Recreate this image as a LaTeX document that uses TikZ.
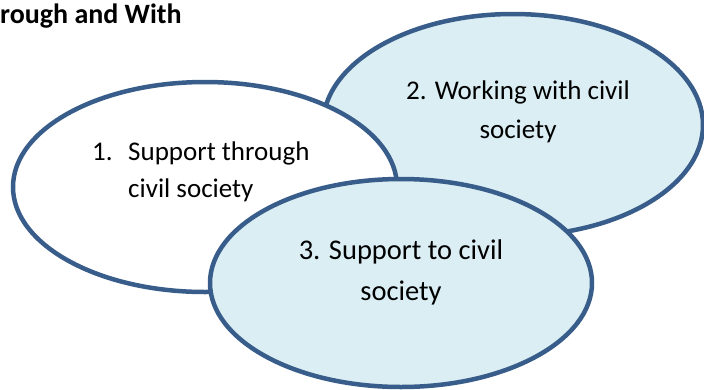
\documentclass[tikz,border=0pt]{standalone}
\usepackage{fontspec}
\setmainfont{Carlito}
\usetikzlibrary{shapes.geometric}
\definecolor{rimblue}{HTML}{385D8A}
\definecolor{paleaqua}{HTML}{DAEEF3}

\begin{document}
\begin{tikzpicture}[x=1pt,y=-1pt,
  oval/.style={ellipse,draw=rimblue,line width=4.5pt,inner sep=0pt},
  words/.style={inner sep=0pt,font=\fontsize{27}{39}\selectfont}]
  \useasboundingbox (0,0) rectangle (704,389);
  \node[anchor=base west,inner sep=0pt,font=\fontsize{28}{34}\selectfont\bfseries] (title) at (0,23) {rough and With};
  % the three ovals, back to front
  \node[oval,fill=paleaqua,minimum width=380pt,minimum height=222pt] (e2) at (513,125) {};
  \node[oval,fill=white,minimum width=384pt,minimum height=210pt] (e1) at (205,187) {};
  \node[oval,fill=paleaqua,minimum width=382pt,minimum height=208pt] (e3) at (401,283) {};
  \node[words,align=left,anchor=west,font=\fontsize{27}{37}\selectfont] (t1) at (92,172)
    {\makebox[36pt][l]{1.}Support through\\\hspace*{36pt}civil society};
  \node[words,align=center] (t2) at (518,112) {2. Working with civil\\society};
  \node[words,align=center,font=\fontsize{28.5}{41}\selectfont] (t3) at (401,272) {3. Support to civil\\society};
\end{tikzpicture}
\end{document}
